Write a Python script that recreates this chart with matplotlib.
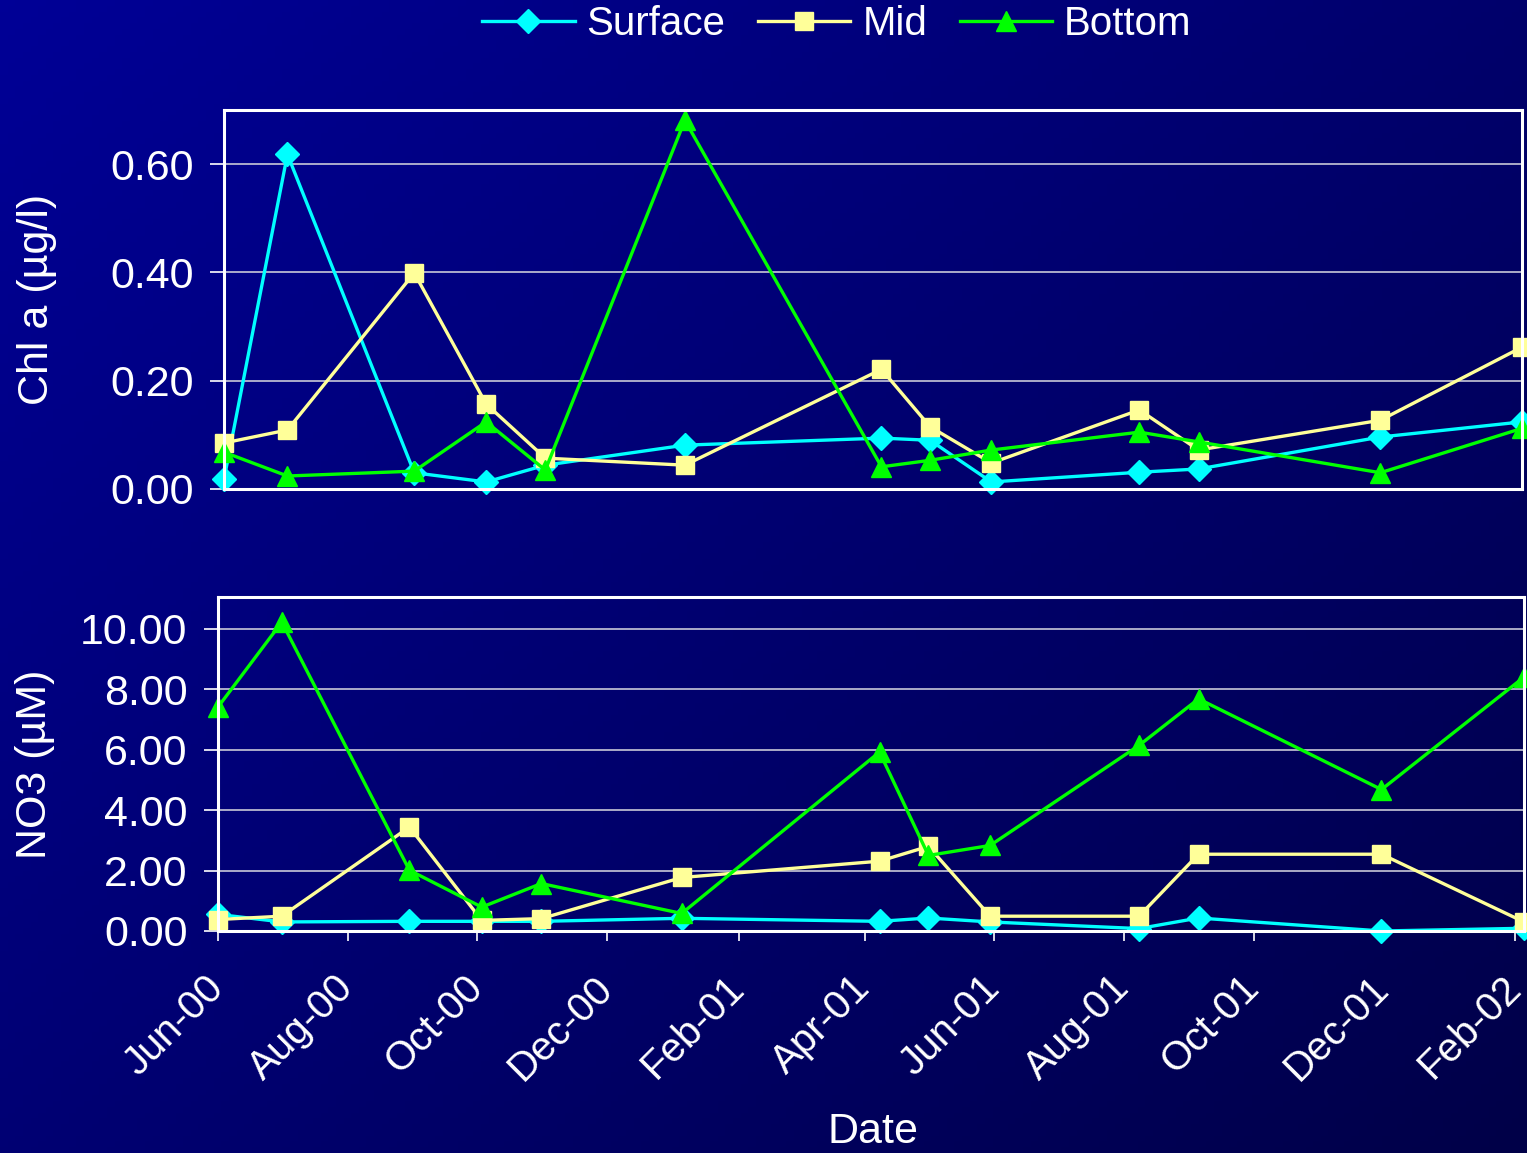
import numpy as np
import pandas as pd
import matplotlib
matplotlib.use("Agg")
import matplotlib.pyplot as plt
import matplotlib.dates as mdates
import matplotlib.transforms as mtransforms
from matplotlib.colors import LinearSegmentedColormap

plt.rcParams['font.family'] = ['Liberation Sans', 'DejaVu Sans']

# sampling dates
dates = pd.to_datetime([
    "2000-06-01", "2000-07-01", "2000-08-30", "2000-10-03", "2000-10-31",
    "2001-01-05", "2001-04-08", "2001-05-01", "2001-05-30", "2001-08-08",
    "2001-09-05", "2001-11-30", "2002-02-05",
])

# Chl a (ug/l)
chl_surface = [0.018, 0.618, 0.030, 0.013, 0.044, 0.081, 0.094, 0.090, 0.013, 0.031, 0.037, 0.096, 0.124]
chl_mid = [0.085, 0.109, 0.399, 0.157, 0.057, 0.044, 0.221, 0.115, 0.048, 0.146, 0.072, 0.127, 0.262]
chl_bottom = [0.068, 0.024, 0.033, 0.124, 0.035, 0.681, 0.041, 0.053, 0.072, 0.105, 0.087, 0.030, 0.112]

# NO3 (uM)
no3_surface = [0.55, 0.30, 0.32, 0.32, 0.32, 0.42, 0.32, 0.43, 0.30, 0.08, 0.43, 0.00, 0.09]
no3_mid = [0.38, 0.49, 3.44, 0.35, 0.41, 1.77, 2.31, 2.80, 0.49, 0.49, 2.54, 2.54, 0.30]
no3_bottom = [7.41, 10.22, 2.01, 0.79, 1.57, 0.58, 5.92, 2.50, 2.83, 6.14, 7.68, 4.68, 8.40]

series_names = ["Surface", "Mid", "Bottom"]
colors = ["#00FFFF", "#FFFF99", "#00FF00"]
markers = ["D", "s", "^"]
msizes = [12, 13, 15]

W, H = 1527, 1153
fig = plt.figure(figsize=(W / 100, H / 100), dpi=100)

# background gradient
bg = fig.add_axes([0, 0, 1, 1], zorder=-10)
yy, xx = np.mgrid[0:1:200j, 0:1:200j]
grad = (xx * 0.55 + yy * 0.45)
cmap = LinearSegmentedColormap.from_list("bg", [(0, 0, 150 / 255), (0, 0, 72 / 255)])
bg.imshow(grad, cmap=cmap, aspect="auto", extent=[0, 1, 0, 1], origin="upper")
bg.axis("off")

ax1 = fig.add_axes([224 / W, 1 - 489 / H, (1522 - 224) / W, (489 - 110) / H])
ax2 = fig.add_axes([218 / W, 1 - 931 / H, (1524 - 218) / W, (931 - 597) / H])

def style_axis(ax):
    ax.set_facecolor("none")
    for sp in ax.spines.values():
        sp.set_color("white")
        sp.set_linewidth(2.2)
    ax.grid(axis="y", color="#c8c8d8", linewidth=1.2)
    ax.set_axisbelow(True)
    ax.tick_params(colors="white", labelsize=31, length=10, width=1.2, pad=12)
    ax.yaxis.set_major_formatter(matplotlib.ticker.FormatStrFormatter("%.2f"))
    ax.set_xlim(dates[0], dates[-1])

lines = []
for ax, data in [(ax1, [chl_surface, chl_mid, chl_bottom]),
                 (ax2, [no3_surface, no3_mid, no3_bottom])]:
    style_axis(ax)
    for name, vals, c, m, ms in zip(series_names, data, colors, markers, msizes):
        ln, = ax.plot(dates, vals, color=c, marker=m, markersize=ms, linewidth=2.4,
                      markeredgecolor=c, label=name, clip_on=False)
        if ax is ax1:
            lines.append(ln)

ax1.set_ylim(0, 0.70)
ax1.set_yticks([0, 0.2, 0.4, 0.6])
ax1.tick_params(axis="x", bottom=False, labelbottom=False)
ax1.set_ylabel("Chl a (µg/l)", color="white", fontsize=31)
ax1.yaxis.set_label_coords((57 - 224) / 1298, 0.5)

ax2.set_ylim(0, 11.05)
ax2.set_yticks([0, 2, 4, 6, 8, 10])
ax2.xaxis.set_major_locator(mdates.MonthLocator(bymonth=[2, 4, 6, 8, 10, 12]))
ax2.xaxis.set_major_formatter(mdates.DateFormatter("%b-%y"))
ax2.tick_params(axis="x", length=7, pad=20, labelsize=29)
shift = mtransforms.ScaledTranslation(-14 / 100, 0, fig.dpi_scale_trans)
for lbl in ax2.get_xticklabels():
    lbl.set_rotation(45)
    lbl.set_ha("right")
    lbl.set_va("top")
    lbl.set_rotation_mode("anchor")
    lbl.set_transform(lbl.get_transform() + shift)
ax2.set_ylabel("NO3 (µM)", color="white", fontsize=31)
ax2.yaxis.set_label_coords((55 - 218) / 1306, 0.5)
fig.text(873 / W, 1 - 1132 / H, "Date", color="white", fontsize=31,
         ha="center", va="center")

fig.legend(handles=lines, loc="center", bbox_to_anchor=(0.548, 1 - 24 / H),
           ncol=3, frameon=False, fontsize=29, labelcolor="white",
           handlelength=2.3, handletextpad=0.3, columnspacing=0.8)

fig.savefig("out.png", dpi=100)
